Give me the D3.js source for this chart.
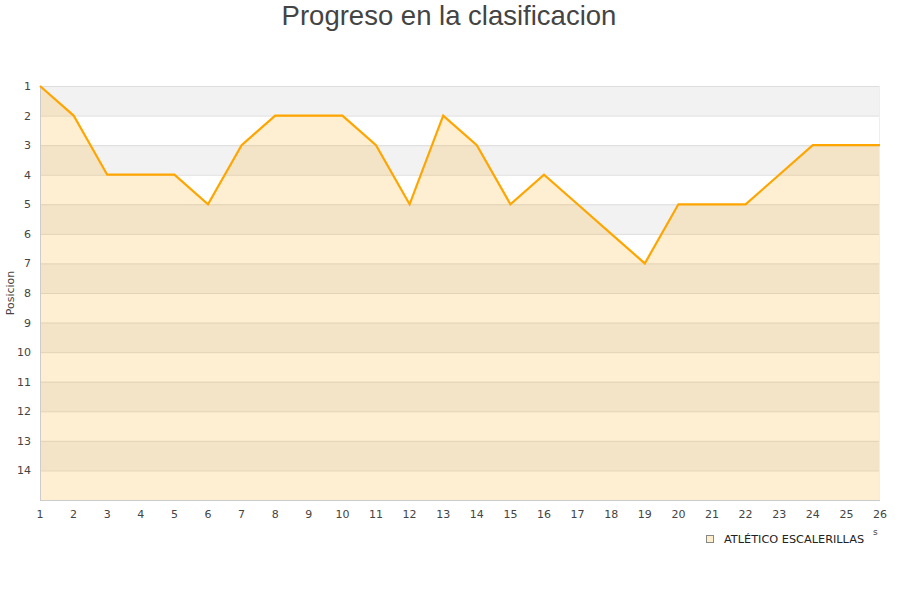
<!DOCTYPE html>
<html>
<head>
<meta charset="utf-8">
<script src="https://cdn.jsdelivr.net/npm/d3@7"></script>
<style>
  body { margin: 0; background: #fff; }
  svg text { font-family: "DejaVu Sans", sans-serif; }
</style>
</head>
<body>
<script>
const jornadas = d3.range(1, 27);
const posiciones = [1, 2, 4, 4, 4, 5, 3, 2, 2, 2, 3, 5, 2, 3, 5, 4, 5, 6, 7, 5, 5, 5, 4, 3, 3, 3];
const yTicks = d3.range(1, 15);
const equipo = "ATLÉTICO ESCALERILLAS";

const width = 900, height = 600;
const plotLeft = 40, plotRight = 880, plotTop = 86, plotBottom = 500;

const svg = d3.select("body").append("svg")
    .attr("width", width)
    .attr("height", height);

const x = d3.scaleLinear().domain([1, 26]).range([plotLeft, plotRight]);
const y = d3.scaleLinear().domain([1, 15]).range([plotTop, plotBottom]);

// alternating bands
svg.append("g").selectAll("rect")
    .data(d3.range(1, 15, 2))
    .enter().append("rect")
    .attr("x", plotLeft)
    .attr("y", d => y(d))
    .attr("width", plotRight - plotLeft)
    .attr("height", d => y(d + 1) - y(d))
    .attr("fill", "#f2f2f2");

// grid lines
svg.append("g").selectAll("line")
    .data(yTicks)
    .enter().append("line")
    .attr("x1", plotLeft).attr("x2", plotRight)
    .attr("y1", d => y(d) + 0.5).attr("y2", d => y(d) + 0.5)
    .attr("stroke", "#dddddd");

const data = jornadas.map((j, i) => ({ j: j, p: posiciones[i] }));

svg.append("path")
    .datum(data)
    .attr("fill", "#ffb020")
    .attr("fill-opacity", 0.2)
    .attr("d", d3.area().x(d => x(d.j)).y0(plotBottom).y1(d => y(d.p)));

// plot frame
svg.append("line")
    .attr("x1", plotLeft + 0.5).attr("x2", plotLeft + 0.5)
    .attr("y1", plotTop).attr("y2", plotBottom)
    .attr("stroke", "#cccccc");
svg.append("line")
    .attr("x1", plotLeft).attr("x2", plotRight)
    .attr("y1", plotBottom + 0.5).attr("y2", plotBottom + 0.5)
    .attr("stroke", "#cccccc");
svg.append("line")
    .attr("x1", plotRight - 0.5).attr("x2", plotRight - 0.5)
    .attr("y1", plotTop).attr("y2", plotBottom)
    .attr("stroke", "#eeeeee");

svg.append("path")
    .datum(data)
    .attr("fill", "none")
    .attr("stroke", "#ffa500")
    .attr("stroke-width", 2.2)
    .attr("d", d3.line().x(d => x(d.j)).y(d => y(d.p)));

// y ticks
svg.append("g").selectAll("text")
    .data(yTicks)
    .enter().append("text")
    .attr("x", 31)
    .attr("y", d => y(d) + 4)
    .attr("text-anchor", "end")
    .attr("font-size", 11)
    .attr("fill", "#444")
    .text(d => d);

// x ticks
svg.append("g").selectAll("text")
    .data(jornadas)
    .enter().append("text")
    .attr("x", d => x(d))
    .attr("y", 518)
    .attr("text-anchor", "middle")
    .attr("font-size", 11)
    .attr("fill", "#444")
    .text(d => d);

svg.append("text")
    .attr("transform", `translate(14, ${(plotTop + plotBottom) / 2}) rotate(-90)`)
    .attr("text-anchor", "middle")
    .attr("font-size", 11)
    .attr("fill", "#444")
    .text("Posicion");

svg.append("text")
    .attr("x", 449)
    .attr("y", 25)
    .attr("text-anchor", "middle")
    .style("font-family", "'Liberation Sans', Arial, sans-serif")
    .attr("font-size", 27.5)
    .attr("fill", "#444")
    .text("Progreso en la clasificacion");

// legend
svg.append("rect")
    .attr("x", 706.5).attr("y", 535.5)
    .attr("width", 7).attr("height", 7)
    .attr("fill", "#ffeecc")
    .attr("stroke", "#888");
svg.append("text")
    .attr("x", 724)
    .attr("y", 543)
    .attr("font-size", 11.3)
    .attr("fill", "#222")
    .text(equipo);
svg.append("text")
    .attr("x", 873)
    .attr("y", 535)
    .attr("font-size", 9)
    .attr("fill", "#444")
    .text("s");
</script>
</body>
</html>
